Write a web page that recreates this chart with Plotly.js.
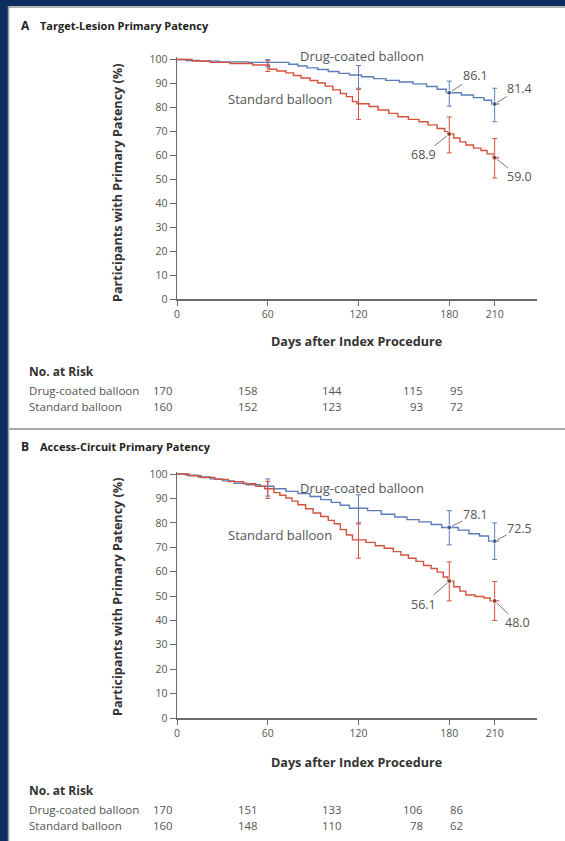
<!DOCTYPE html>
<html>
<head>
<meta charset="utf-8">
<script src="https://cdn.plot.ly/plotly-3.0.1.min.js"></script>
<style>
html,body{margin:0;padding:0;background:#fff;}
#chart{width:565px;height:841px;}
</style>
</head>
<body>
<div id="chart"></div>
<script>
// ---------- Data ----------
var xTicks = [0, 60, 120, 180, 210];
var yTicks = [0, 10, 20, 30, 40, 50, 60, 70, 80, 90, 100];
var seriesNames = ['Drug-coated balloon', 'Standard balloon'];

// Panel A: Target-Lesion Primary Patency (Kaplan-Meier steps)
var tA_dcb = [0, 6, 15, 28, 47, 74, 80, 86, 93, 100, 107, 114, 122, 130, 138, 147, 156, 165, 172, 178, 188, 196, 203, 208, 213];
var vA_dcb = [100, 99.6, 99.3, 99.0, 98.8, 98.0, 97.3, 96.5, 95.8, 95.0, 94.2, 93.5, 92.8, 92.0, 91.3, 90.6, 89.8, 88.7, 87.6, 86.1, 85.2, 84.1, 83.0, 81.4, 81.4];
var tA_std = [0, 10, 22, 35, 50, 61, 66, 72, 77, 82, 88, 93, 98, 103, 108, 112, 116, 119, 127, 133, 140, 146, 153, 160, 166, 172, 177, 179, 183, 187, 191, 196, 201, 205, 209, 213];
var vA_std = [100, 99.4, 98.8, 98.3, 97.7, 95.9, 95.2, 94.4, 93.3, 92.3, 91.2, 90.2, 88.9, 87.3, 85.8, 84.5, 82.4, 81.5, 80.4, 78.9, 77.5, 76.1, 75.0, 74.0, 72.7, 71.2, 69.9, 68.9, 67.2, 65.6, 64.3, 63.0, 62.0, 60.6, 59.0, 59.0];

// Panel B: Access-Circuit Primary Patency
var tB_dcb = [0, 6, 14, 22, 30, 38, 46, 55, 64, 72, 80, 88, 95, 102, 108, 114, 126, 135, 144, 152, 160, 168, 175, 186, 193, 200, 206, 213];
var vB_dcb = [100, 99.5, 98.8, 98.0, 97.2, 96.2, 95.6, 95.0, 94.0, 92.9, 92.0, 90.8, 89.5, 88.4, 87.2, 86.0, 85.0, 83.5, 82.4, 81.3, 80.4, 79.3, 78.1, 77.0, 75.5, 74.6, 72.5, 72.5];
var tB_std = [0, 8, 16, 25, 34, 44, 52, 58, 64, 68, 72, 76, 80, 85, 90, 95, 100, 104, 108, 112, 116, 125, 131, 137, 143, 148, 153, 158, 163, 168, 172, 176, 179, 183, 187, 191, 197, 203, 207, 213];
var vB_std = [100, 99.3, 98.6, 97.8, 96.9, 96.0, 95.0, 94.0, 92.4, 91.3, 90.2, 88.9, 87.4, 85.8, 84.0, 82.6, 81.0, 79.6, 77.2, 75.0, 73.0, 72.0, 70.6, 69.6, 68.2, 66.8, 65.5, 64.2, 62.5, 61.3, 59.8, 57.8, 56.1, 53.8, 52.0, 50.4, 49.8, 49.2, 48.0, 48.0];

// Confidence intervals at selected days
var ciDays = [60, 120, 180, 210];
var A_dcb_est = [98.8, 93.5, 86.1, 81.4], A_dcb_lo = [97.0, 88.0, 80.5, 74.0], A_dcb_hi = [100, 97.5, 91.0, 88.0];
var A_std_est = [97.5, 81.5, 68.9, 59.0], A_std_lo = [95.0, 75.0, 61.0, 50.5], A_std_hi = [99.5, 87.5, 76.0, 67.0];
var B_dcb_est = [95.0, 86.0, 78.1, 72.5], B_dcb_lo = [91.0, 79.5, 71.0, 65.0], B_dcb_hi = [98.0, 91.5, 85.0, 80.0];
var B_std_est = [94.0, 73.0, 56.1, 48.0], B_std_lo = [90.0, 65.5, 48.0, 40.0], B_std_hi = [97.0, 80.0, 64.0, 56.0];

// Labelled estimates
var A_labels = ['86.1', '81.4', '68.9', '59.0'];
var B_labels = ['78.1', '72.5', '56.1', '48.0'];

// Numbers at risk
var riskRows = ['Drug-coated balloon', 'Standard balloon'];
var riskA_dcb = [170, 158, 144, 115, 95];
var riskA_std = [160, 152, 123, 93, 72];
var riskB_dcb = [170, 151, 133, 106, 86];
var riskB_std = [160, 148, 110, 78, 62];

var panelTitles = ['Target-Lesion Primary Patency', 'Access-Circuit Primary Patency'];
var panelLetters = ['A', 'B'];

// ---------- Styling ----------
var W = 565, H = 841;
var FONT = 'Open Sans, sans-serif';
var BLUE = '#5b7dba', RED = '#d5523d';
var BLUE_DK = '#2c4777', RED_DK = '#6e2a20';
var AX = '#6b6b6b', TXT = '#555555', DARK = '#333333';
function PX(x) { return x / W; }
function PY(y) { return 1 - y / H; }

function stepTrace(t, v, color, xa, ya) {
  return {x: t, y: v, type: 'scatter', mode: 'lines', xaxis: xa, yaxis: ya,
    line: {color: color, width: 1.4, shape: 'hv'}, hoverinfo: 'skip', showlegend: false};
}
function ciTrace(est, lo, hi, color, dk, xa, ya) {
  return {x: ciDays, y: est, type: 'scatter', mode: 'markers', xaxis: xa, yaxis: ya,
    marker: {size: [0, 0, 5, 5], color: dk},
    error_y: {type: 'data', symmetric: false,
      array: hi.map(function (h, i) { return h - est[i]; }),
      arrayminus: lo.map(function (l, i) { return est[i] - l; }),
      color: color, thickness: 1, width: 2.5},
    cliponaxis: false, hoverinfo: 'skip', showlegend: false};
}

var data = [
  stepTrace(tA_dcb, vA_dcb, BLUE, 'x', 'y'),
  stepTrace(tA_std, vA_std, RED, 'x', 'y'),
  ciTrace(A_dcb_est, A_dcb_lo, A_dcb_hi, BLUE, BLUE_DK, 'x', 'y'),
  ciTrace(A_std_est, A_std_lo, A_std_hi, RED, RED_DK, 'x', 'y'),
  stepTrace(tB_dcb, vB_dcb, BLUE, 'x2', 'y2'),
  stepTrace(tB_std, vB_std, RED, 'x2', 'y2'),
  ciTrace(B_dcb_est, B_dcb_lo, B_dcb_hi, BLUE, BLUE_DK, 'x2', 'y2'),
  ciTrace(B_std_est, B_std_lo, B_std_hi, RED, RED_DK, 'x2', 'y2')
];

function xAxis(anchor) {
  return {domain: [PX(177), PX(537)], range: [0, 238], anchor: anchor,
    tickvals: xTicks, ticktext: xTicks.map(String), ticks: 'outside', ticklen: 5, tickwidth: 1,
    tickcolor: AX, showline: true, linecolor: AX, linewidth: 1.5, showgrid: false, zeroline: false,
    tickfont: {family: FONT, size: 10.5, color: TXT}, fixedrange: true};
}
function yAxis(anchor, top, bottom) {
  return {domain: [PY(bottom), PY(top)], range: [0, 101], anchor: anchor,
    tickvals: yTicks, ticktext: yTicks.map(String), ticks: 'outside', ticklen: 6, tickwidth: 1,
    tickcolor: AX, showline: true, linecolor: AX, linewidth: 1.5, showgrid: false, zeroline: false,
    tickfont: {family: FONT, size: 10.5, color: TXT}, fixedrange: true};
}

var annotations = [];
function addText(x, y, text, size, bold, color, xanchor, extra) {
  var a = {xref: 'paper', yref: 'paper', x: PX(x), y: PY(y), text: bold ? '<b>' + text + '</b>' : text,
    showarrow: false, xanchor: xanchor || 'left', yanchor: 'middle', borderpad: 0,
    font: {family: FONT, size: size, color: color || DARK}};
  if (extra) for (var k in extra) a[k] = extra[k];
  annotations.push(a);
}

// panel titles
var titleY = [26, 446];
for (var p = 0; p < 2; p++) {
  addText(20, titleY[p], panelLetters[p], 12, true, '#222');
  addText(39, titleY[p], panelTitles[p], 11, true, '#222');
}
// axis titles
var yTitleY = [183, 597], xTitleY = [341, 762];
for (var p = 0; p < 2; p++) {
  addText(117, yTitleY[p], 'Participants with Primary Patency (%)', 12.6, true, DARK, 'center', {textangle: -90});
  addText(356, xTitleY[p], 'Days after Index Procedure', 12.6, true, DARK, 'center');
}
// series labels in plot (paper positions)
addText(362, 56, seriesNames[0], 13, false, TXT, 'center');
addText(280, 99, seriesNames[1], 13, false, TXT, 'center');
addText(362, 488, seriesNames[0], 13, false, TXT, 'center');
addText(280, 535, seriesNames[1], 13, false, TXT, 'center');

// estimate labels with leader lines
function estLabel(xr, yr, x, y, text, ax, ay) {
  annotations.push({xref: xr, yref: yr, x: x, y: y, text: text, showarrow: true,
    arrowhead: 0, arrowwidth: 1, arrowcolor: '#777', ax: ax, ay: ay, standoff: 3, borderpad: 0,
    font: {family: FONT, size: 12.5, color: TXT}});
}
estLabel('x', 'y', 180, A_dcb_est[2], A_labels[0], 26, -17);
estLabel('x', 'y', 210, A_dcb_est[3], A_labels[1], 25, -16);
estLabel('x', 'y', 180, A_std_est[2], A_labels[2], -26, 21);
estLabel('x', 'y', 210, A_std_est[3], A_labels[3], 25, 19);
estLabel('x2', 'y2', 180, B_dcb_est[2], B_labels[0], 26, -13);
estLabel('x2', 'y2', 210, B_dcb_est[3], B_labels[1], 25, -13);
estLabel('x2', 'y2', 180, B_std_est[2], B_labels[2], -26, 23);
estLabel('x2', 'y2', 210, B_std_est[3], B_labels[3], 23, 22);

// numbers at risk tables
var colRight = [174, 259, 343, 424, 464];
var tables = [
  {head: 371, rows: [390, 406], vals: [riskA_dcb, riskA_std]},
  {head: 790, rows: [809, 825], vals: [riskB_dcb, riskB_std]}
];
tables.forEach(function (tb) {
  addText(28, tb.head, 'No. at Risk', 12, true, DARK);
  for (var r = 0; r < 2; r++) {
    addText(28, tb.rows[r], riskRows[r], 11.6, false, TXT);
    tb.vals[r].forEach(function (v, i) {
      addText(colRight[i], tb.rows[r], String(v), 11.4, false, TXT, 'right');
    });
  }
});

var NAVY = '#0c2d5e';
var shapes = [
  {type: 'rect', xref: 'paper', yref: 'paper', x0: 0, x1: PX(8), y0: 0, y1: 1, fillcolor: NAVY, line: {width: 0}},
  {type: 'rect', xref: 'paper', yref: 'paper', x0: 0, x1: 1, y0: PY(6), y1: 1, fillcolor: NAVY, line: {width: 0}},
  {type: 'line', xref: 'paper', yref: 'paper', x0: PX(8.5), x1: PX(8.5), y0: 0, y1: PY(6), line: {color: '#9a9a9a', width: 1.5}},
  {type: 'line', xref: 'paper', yref: 'paper', x0: PX(8), x1: 1, y0: PY(7), y1: PY(7), line: {color: '#9a9a9a', width: 1.5}},
  {type: 'line', xref: 'paper', yref: 'paper', x0: PX(8), x1: 1, y0: PY(429), y1: PY(429), line: {color: '#a8a8a8', width: 2}}
];

var layout = {
  width: W, height: H, margin: {l: 0, r: 0, t: 0, b: 0, pad: 0},
  paper_bgcolor: '#ffffff', plot_bgcolor: 'rgba(0,0,0,0)',
  showlegend: false, font: {family: FONT, color: TXT},
  xaxis: xAxis('y'), yaxis: yAxis('x', 57.1, 299),
  xaxis2: xAxis('y2'), yaxis2: yAxis('x2', 471.6, 718),
  annotations: annotations, shapes: shapes
};

Plotly.newPlot('chart', data, layout, {displayModeBar: false, staticPlot: true});
</script>
</body>
</html>
